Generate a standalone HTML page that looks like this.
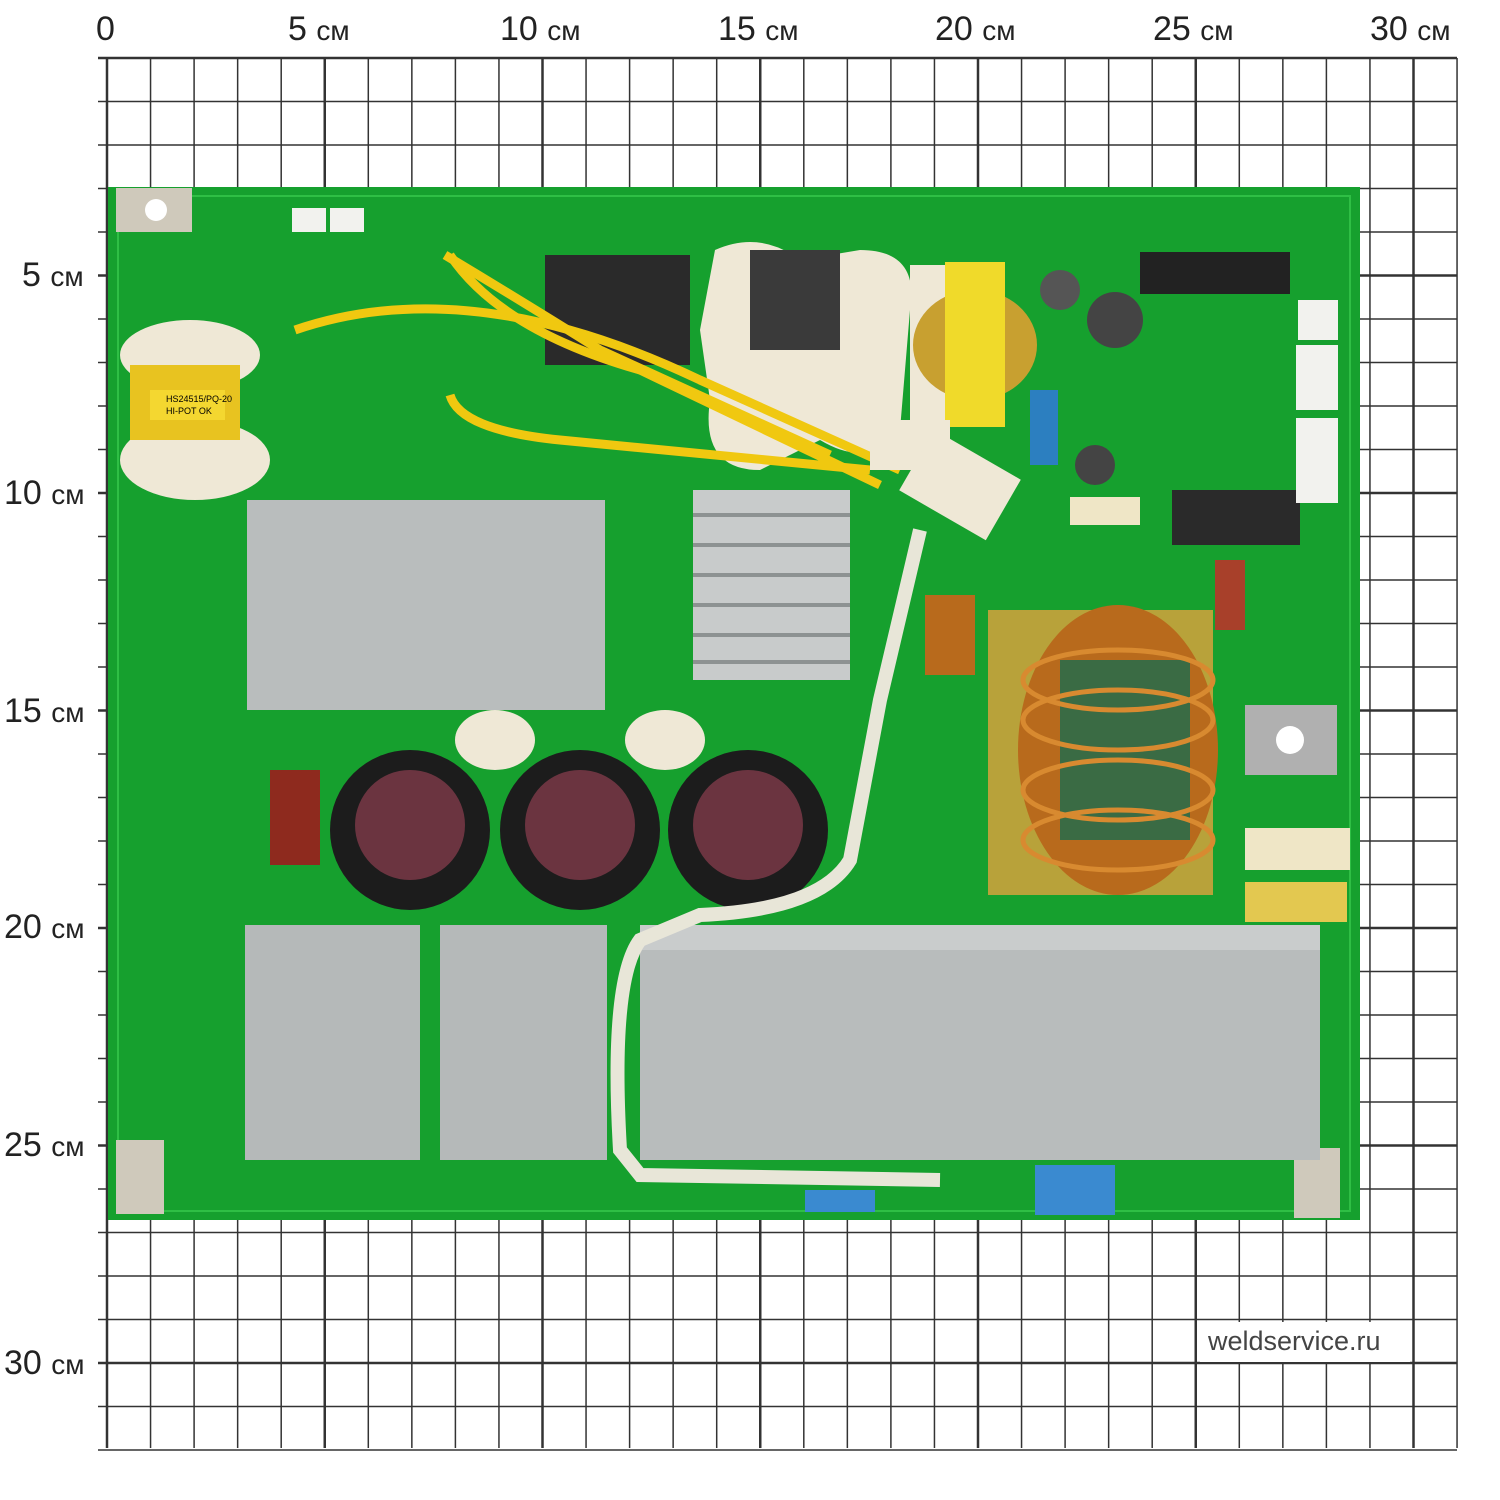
<!DOCTYPE html>
<html><head><meta charset="utf-8"><style>
html,body{margin:0;padding:0;background:#fff}
svg{display:block}
text{font-family:"Liberation Sans",sans-serif}
</style></head><body>
<svg width="1500" height="1500" viewBox="0 0 1500 1500" xmlns="http://www.w3.org/2000/svg">
<rect width="1500" height="1500" fill="#fff"/>
<g id="grid" stroke="#333" stroke-width="1.5">
<!-- vertical lines -->
<g id="v"></g>
</g>
<script>
(function(){
var s=document.querySelector('svg'),ns='http://www.w3.org/2000/svg',g=document.getElementById('grid');
for(var i=0;i<=31;i++){var x=107+i*43.55;var l=document.createElementNS(ns,'line');l.setAttribute('x1',x);l.setAttribute('x2',x);l.setAttribute('y1',58);l.setAttribute('y2',1448);if(i%5==0)l.setAttribute('stroke-width','2.5');g.appendChild(l);}
for(var j=0;j<=32;j++){var y=58+j*43.5;var l=document.createElementNS(ns,'line');l.setAttribute('y1',y);l.setAttribute('y2',y);l.setAttribute('x1',98);l.setAttribute('x2',1457);if(j%5==0)l.setAttribute('stroke-width','2.5');g.appendChild(l);}
})();
</script>
<g font-size="34" fill="#222">
<text x="96" y="40">0</text>
<text x="288" y="40">5 <tspan font-size="28">см</tspan></text>
<text x="500" y="40">10 <tspan font-size="28">см</tspan></text>
<text x="718" y="40">15 <tspan font-size="28">см</tspan></text>
<text x="935" y="40">20 <tspan font-size="28">см</tspan></text>
<text x="1153" y="40">25 <tspan font-size="28">см</tspan></text>
<text x="1370" y="40">30 <tspan font-size="28">см</tspan></text>
<text x="22" y="286">5 <tspan font-size="28">см</tspan></text>
<text x="4" y="504">10 <tspan font-size="28">см</tspan></text>
<text x="4" y="722">15 <tspan font-size="28">см</tspan></text>
<text x="4" y="938">20 <tspan font-size="28">см</tspan></text>
<text x="4" y="1156">25 <tspan font-size="28">см</tspan></text>
<text x="4" y="1374">30 <tspan font-size="28">см</tspan></text>
</g>
<rect x="1200" y="1322" width="210" height="40" fill="#fff"/>
<text x="1208" y="1350" font-size="27" fill="#444">weldservice.ru</text>
<!-- PCB -->
<rect x="108" y="187" width="1252" height="1033" fill="#16a02e"/>
<rect x="118" y="196" width="1232" height="1015" fill="none" stroke="#2fbf45" stroke-width="2"/>
<rect x="116" y="188" width="76" height="44" fill="#cfc9bb"/>
<circle cx="156" cy="210" r="11" fill="#fff"/>
<rect x="116" y="1140" width="48" height="74" fill="#cfc9bb"/>
<rect x="1294" y="1148" width="46" height="70" fill="#cfc9bb"/>
<!-- cream blobs -->
<ellipse cx="190" cy="355" rx="70" ry="35" fill="#efe8d6"/>
<ellipse cx="195" cy="460" rx="75" ry="40" fill="#efe8d6"/>
<rect x="130" y="365" width="110" height="75" fill="#e8c320"/>
<rect x="150" y="390" width="75" height="30" fill="#f4d730"/>
<text x="166" y="402" font-size="9">HS24515/PQ-20</text><text x="166" y="414" font-size="9">HI-POT OK</text>
<path d="M715 250 Q760 230 800 260 L860 250 Q920 250 910 310 L900 430 Q870 470 820 440 L760 470 Q700 470 710 400 L700 330 Z" fill="#efe8d6"/>
<rect x="750" y="250" width="90" height="100" fill="#3a3a3a"/>
<rect x="910" y="265" width="90" height="160" fill="#efe8d6"/>
<rect x="945" y="262" width="60" height="165" fill="#f0da2a"/>
<ellipse cx="975" cy="345" rx="62" ry="55" fill="#c8a030"/>
<rect x="945" y="285" width="60" height="120" fill="#f0da2a"/>
<!-- relay -->
<rect x="545" y="255" width="145" height="110" fill="#2a2a2a"/>
<rect x="1140" y="252" width="150" height="42" fill="#222"/>
<rect x="1172" y="490" width="128" height="55" fill="#2a2a2a"/>
<!-- connectors -->
<rect x="1298" y="300" width="40" height="40" fill="#f2f2ee"/>
<rect x="1296" y="345" width="42" height="65" fill="#f2f2ee"/>
<rect x="1296" y="418" width="42" height="85" fill="#f2f2ee"/>
<rect x="292" y="208" width="34" height="24" fill="#f2f2ee"/>
<rect x="330" y="208" width="34" height="24" fill="#f2f2ee"/>
<!-- heatsinks -->
<rect x="247" y="500" width="358" height="210" fill="#b9bdbd"/>
<rect x="693" y="490" width="157" height="190" fill="#c8cbcb"/>
<g stroke="#8d9292" stroke-width="4"><line x1="693" y1="515" x2="850" y2="515"/><line x1="693" y1="545" x2="850" y2="545"/><line x1="693" y1="575" x2="850" y2="575"/><line x1="693" y1="605" x2="850" y2="605"/><line x1="693" y1="635" x2="850" y2="635"/><line x1="693" y1="662" x2="850" y2="662"/></g>
<rect x="245" y="925" width="175" height="235" fill="#b5b9b9"/>
<rect x="440" y="925" width="167" height="235" fill="#b5b9b9"/>
<rect x="640" y="925" width="680" height="235" fill="#b8bcbc"/>
<rect x="640" y="925" width="680" height="25" fill="#c9cccc"/>
<!-- capacitors -->
<rect x="270" y="770" width="50" height="95" fill="#8e2a1e"/>
<ellipse cx="495" cy="740" rx="40" ry="30" fill="#efe8d6"/>
<ellipse cx="665" cy="740" rx="40" ry="30" fill="#efe8d6"/>
<g><circle cx="410" cy="830" r="80" fill="#1c1c1c"/><circle cx="410" cy="825" r="55" fill="#6b3440"/>
<circle cx="580" cy="830" r="80" fill="#1c1c1c"/><circle cx="580" cy="825" r="55" fill="#6b3440"/>
<circle cx="748" cy="830" r="80" fill="#1c1c1c"/><circle cx="748" cy="825" r="55" fill="#6b3440"/></g>
<!-- toroid -->
<rect x="988" y="610" width="225" height="285" fill="#b8a23a"/>
<ellipse cx="1118" cy="750" rx="100" ry="145" fill="#b86a1c"/>
<rect x="1060" y="660" width="130" height="180" fill="#3a6b44"/>
<g stroke="#d88a30" stroke-width="5" fill="none"><ellipse cx="1118" cy="680" rx="95" ry="30"/><ellipse cx="1118" cy="720" rx="95" ry="30"/><ellipse cx="1118" cy="790" rx="95" ry="30"/><ellipse cx="1118" cy="840" rx="95" ry="30"/></g>
<rect x="925" y="595" width="50" height="80" fill="#b86a1c"/>
<rect x="1245" y="705" width="92" height="70" fill="#b0b0b0"/><circle cx="1290" cy="740" r="14" fill="#fff"/>
<rect x="1245" y="828" width="105" height="42" fill="#efe6c6"/>
<rect x="1245" y="882" width="102" height="40" fill="#e3c850"/>
<rect x="1215" y="560" width="30" height="70" fill="#a8402a"/>
<rect x="1070" y="497" width="70" height="28" fill="#efe6c6"/>
<circle cx="1115" cy="320" r="28" fill="#444"/><circle cx="1060" cy="290" r="20" fill="#555"/><circle cx="1095" cy="465" r="20" fill="#444"/>
<rect x="1030" y="390" width="28" height="75" fill="#2c7fc0"/>
<!-- white cable -->
<path d="M920 530 L880 700 L850 860 Q820 910 700 915 L640 940 Q610 980 620 1150 L640 1175 L940 1180" fill="none" stroke="#e8e6d8" stroke-width="14"/>
<!-- yellow wires -->
<g fill="none" stroke="#f0c810" stroke-width="9"><path d="M295 330 Q470 270 700 380 L900 470"/><path d="M450 255 Q500 330 640 370 L880 485"/><path d="M450 395 Q460 430 560 440 L870 470"/><path d="M445 255 Q520 300 600 350 L830 455"/></g>
<rect x="870" y="420" width="80" height="50" fill="#efe8d6"/>
<rect x="910" y="450" width="100" height="70" fill="#efe8d6" transform="rotate(30 960 485)"/>
<!-- resistors bottom -->
<rect x="805" y="1190" width="70" height="22" fill="#3a8ad0"/>
<rect x="1035" y="1165" width="80" height="50" fill="#3a8ad0"/>
</svg>
</body></html>
